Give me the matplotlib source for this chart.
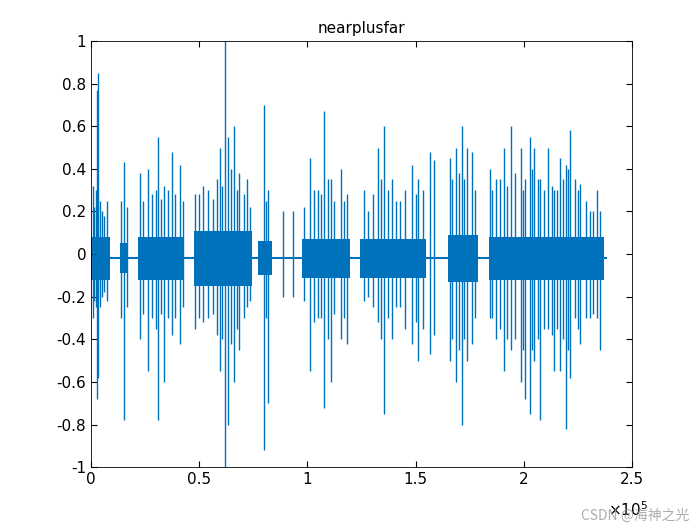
import numpy as np
import matplotlib
matplotlib.use("Agg")
import matplotlib.pyplot as plt

plt.rcParams['font.family'] = ['DejaVu Sans', 'Noto Sans CJK SC']

# main spike positions (samples), upper and lower peaks
spike_x = [900, 2800, 3200, 2300, 5100, 7400, 15200, 22600, 26300, 31000, 33800, 37500,
           41200, 48100, 51800, 56400, 59700, 61900, 63100, 66300, 68600, 72300, 79700, 82000,
           88900, 93100, 101000, 104800, 107600, 110800, 115400, 118200, 126200, 132600, 135400,
           139100, 142800, 148300, 151100, 156600, 158500, 165900, 168600, 171400, 173700, 175900,
           184200, 187000, 190700, 193900, 198500, 200300, 202600, 204900, 207600, 211300, 214100,
           216800, 219600, 221500, 223800, 226100, 230700, 233900, 235300]
spike_top = [0.32, 0.77, 0.85, 0.30, 0.20, 0.25, 0.43, 0.38, 0.40, 0.55, 0.32, 0.48,
             0.42, 0.28, 0.32, 0.26, 0.50, 1.00, 0.55, 0.60, 0.38, 0.35, 0.70, 0.30,
             0.20, 0.20, 0.45, 0.30, 0.67, 0.35, 0.40, 0.28, 0.30, 0.50, 0.60,
             0.35, 0.25, 0.42, 0.35, 0.48, 0.44, 0.45, 0.50, 0.60, 0.50, 0.48,
             0.40, 0.35, 0.50, 0.60, 0.50, 0.35, 0.55, 0.50, 0.35, 0.50, 0.30,
             0.45, 0.42, 0.58, 0.35, 0.33, 0.20, 0.30, 0.20]
spike_bot = [-0.30, -0.68, -0.58, -0.25, -0.20, -0.22, -0.78, -0.40, -0.55, -0.78, -0.60, -0.38,
             -0.42, -0.35, -0.32, -0.28, -0.55, -1.00, -0.80, -0.60, -0.45, -0.25, -0.92, -0.70,
             -0.20, -0.20, -0.55, -0.30, -0.72, -0.60, -0.40, -0.42, -0.22, -0.32, -0.75,
             -0.40, -0.25, -0.42, -0.50, -0.47, -0.38, -0.50, -0.60, -0.80, -0.50, -0.42,
             -0.30, -0.40, -0.55, -0.45, -0.60, -0.68, -0.75, -0.50, -0.78, -0.35, -0.55,
             -0.55, -0.82, -0.58, -0.30, -0.42, -0.30, -0.30, -0.45]

# secondary (medium) spikes
mid_x = [1500, 4000, 6200, 14000, 16500, 24000, 28000, 30000, 32500, 35500, 39000, 42500,
         50000, 54000, 58000, 60500, 64500, 67500, 70500, 73500, 81000, 98500, 103000, 106300,
         109500, 112500, 117000, 128000, 130500, 134000, 137000, 141000, 145000, 150000, 153500,
         167000, 170000, 172500, 177500, 185500, 189000, 192000, 196000, 199500, 203800, 206300,
         209500, 213000, 215500, 218000, 220500, 225000, 228500, 232000]
mid_top = [0.22, 0.25, 0.18, 0.25, 0.22, 0.25, 0.28, 0.30, 0.26, 0.30, 0.28, 0.25,
           0.28, 0.30, 0.35, 0.32, 0.40, 0.30, 0.28, 0.22, 0.25, 0.22, 0.30, 0.28,
           0.35, 0.25, 0.25, 0.20, 0.28, 0.35, 0.30, 0.25, 0.30, 0.28, 0.30,
           0.35, 0.38, 0.35, 0.30, 0.30, 0.35, 0.32, 0.38, 0.30, 0.40, 0.35,
           0.30, 0.32, 0.30, 0.35, 0.40, 0.30, 0.25, 0.20]
mid_bot = [-0.22, -0.25, -0.18, -0.30, -0.25, -0.28, -0.30, -0.35, -0.28, -0.30, -0.30, -0.25,
           -0.30, -0.30, -0.38, -0.40, -0.42, -0.35, -0.30, -0.22, -0.30, -0.22, -0.32, -0.30,
           -0.40, -0.28, -0.30, -0.20, -0.25, -0.40, -0.30, -0.25, -0.35, -0.32, -0.35,
           -0.40, -0.45, -0.40, -0.30, -0.30, -0.35, -0.40, -0.40, -0.45, -0.45, -0.40,
           -0.35, -0.38, -0.35, -0.40, -0.45, -0.35, -0.30, -0.28]

# speech segments (start, end samples) and core envelope amplitude
seg_start = [0, 13500, 21500, 47600, 77100, 97500, 124300, 165000, 183800]
seg_end = [8800, 17000, 42500, 74500, 83500, 119600, 155000, 178800, 237000]
seg_amp = [0.10, 0.07, 0.10, 0.13, 0.08, 0.09, 0.09, 0.11, 0.10]

baseline = -0.02
signal_end = 238000

fig = plt.figure(figsize=(7, 5.25), dpi=100)
ax = fig.add_axes([0.13, 0.11, 0.773, 0.812])
c = '#0072BD'
ax.plot([0, signal_end], [baseline, baseline], color=c, lw=1.5)
for s, e, a in zip(seg_start, seg_end, seg_amp):
    ax.fill_between([s, e], [baseline - a] * 2, [baseline + a] * 2, color=c, lw=0)
ax.vlines(mid_x, mid_bot, mid_top, color=c, lw=1.0)
ax.vlines(spike_x, spike_bot, spike_top, color=c, lw=1.0)

ax.set_xlim(0, 250000)
ax.set_ylim(-1, 1)
ax.set_xticks(np.arange(0, 250001, 50000))
ax.set_xticklabels(['0', '0.5', '1', '1.5', '2', '2.5'])
ax.set_yticks(np.arange(-1, 1.01, 0.2))
ax.set_yticklabels(['-1', '-0.8', '-0.6', '-0.4', '-0.2', '0', '0.2', '0.4', '0.6', '0.8', '1'])
ax.tick_params(direction='in', top=True, right=True, labelsize=11, length=4)
for sp in ax.spines.values():
    sp.set_linewidth(0.6)
ax.set_title('nearplusfar', fontsize=11)
fig.text(0.868, 0.012, r'$\times10^5$', fontsize=11, ha='left', va='bottom')
fig.text(0.985, 0.005, 'CSDN @海神之光', fontsize=10, color='#999999', ha='right', va='bottom',
         family=['Noto Sans CJK SC', 'DejaVu Sans'], alpha=0.8)
fig.savefig('out.png', dpi=100)
